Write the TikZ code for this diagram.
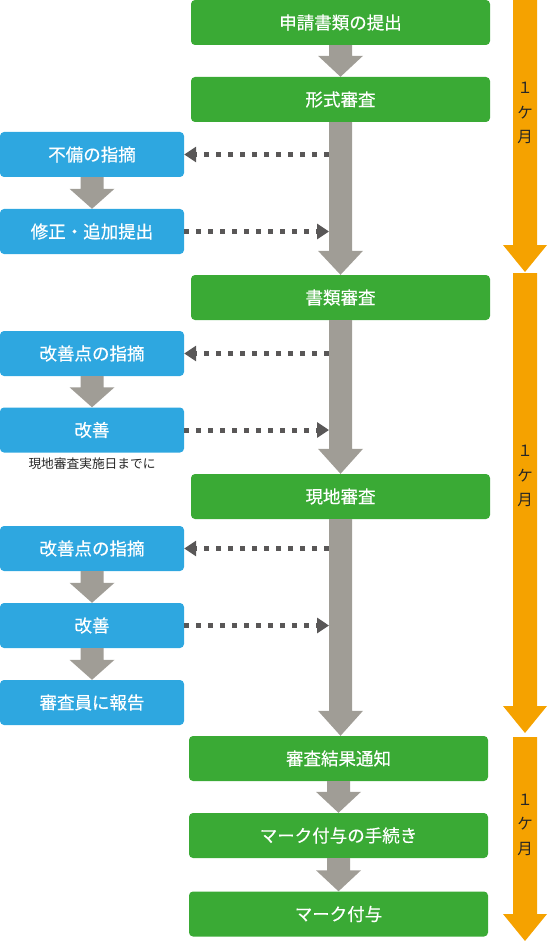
\documentclass[tikz,border=0pt]{standalone}
\usepackage{fontspec}
\newfontfamily\jp{Noto Sans CJK JP}
\newfontfamily\jpb[FakeBold=0.4]{Noto Sans CJK JP}
\usepackage{tikz}
\usetikzlibrary{arrows.meta, calc}

\definecolor{stepgreen}{HTML}{3AAA35}
\definecolor{stepblue}{HTML}{2EA7E0}
\definecolor{arrgray}{HTML}{A09D96}
\definecolor{dotgray}{HTML}{595757}
\definecolor{termorange}{HTML}{F5A200}

\begin{document}
\begin{tikzpicture}[x=1pt, y=-1pt,
  main/.style={rectangle, fill=stepgreen, minimum width=299pt, minimum height=45pt, rounded corners=4pt, text=white, font=\jpb\fontsize{17.5}{17.5}\selectfont},
  sub/.style={rectangle, fill=stepblue, minimum width=184pt, minimum height=45pt, rounded corners=4pt, text=white, font=\jpb\fontsize{17.5}{17.5}\selectfont},
  fatarr/.style={fill=arrgray},
  dotarr/.style={draw=dotgray, line width=5pt, dash pattern=on 5pt off 7pt, -{Triangle[length=12pt, width=15pt]}},
  timebar/.style={fill=termorange},
  month/.style={align=center, text=black!85, font=\jp\fontsize{15.5}{24.5}\selectfont},
  note/.style={text=black!85, font=\jp\fontsize{12.7}{12.7}\selectfont}
]
\useasboundingbox (0,0) rectangle (548,941);

% Main steps
\node[main] (apply) at (340.5, 22.5) {申請書類の提出};
\node[main] (formal) at (340.5, 99.5) {形式審査};
\node[main] (docrev) at (340.5, 297.5) {書類審査};
\node[main] (onsite) at (340.5, 496.5) {現地審査};
\node[main] (result) at (338.5, 758.5) {審査結果通知};
\node[main] (markproc) at (338.5, 835.5) {マーク付与の手続き};
\node[main] (mark) at (338.5, 914) {マーク付与};

% Side steps
\node[sub] (defect1) at (92, 154.5) {不備の指摘};
\node[sub] (fix1) at (92, 231.5) {修正・追加提出};
\node[sub] (imppt1) at (92, 353.5) {改善点の指摘};
\node[sub] (imp1) at (92, 430) {改善};
\node[note] (notedate) at (92, 464) {現地審査実施日までに};
\node[sub] (imppt2) at (92, 548.5) {改善点の指摘};
\node[sub] (imp2) at (92, 625.5) {改善};
\node[sub] (report) at (92, 702.5) {審査員に報告};

% Fat arrows
\foreach \a/\b/\h in {apply/formal/21, formal/docrev/24, docrev/onsite/25, onsite/result/25, result/markproc/21, markproc/mark/21, defect1/fix1/20, imppt1/imp1/20, imppt2/imp2/20, imp2/report/20} {
  \fill[fatarr] ($(\a.south)+(-11.5,0)$) -- ($(\a.south |- \b.north)+(-11.5,-\h)$)
    -- ($(\a.south |- \b.north)+(-22.5,-\h)$) -- (\a.south |- \b.north)
    -- ($(\a.south |- \b.north)+(22.5,-\h)$) -- ($(\a.south |- \b.north)+(11.5,-\h)$)
    -- ($(\a.south)+(11.5,0)$) -- cycle;
}

% Dotted arrows
\coordinate (sh) at ($(formal.south)+(-11.5,0)$);
\foreach \l in {defect1, imppt1, imppt2}
  \draw[dotarr] (sh |- \l.east) -- (\l.east);
\foreach \r in {fix1, imp1, imp2}
  \draw[dotarr] (\r.east) -- (sh |- \r.east);

% Time bars
\foreach \t/\e in {0/272, 273/733, 737/941} {
  \fill[timebar] (513,\t) -- (513,\e-27) -- (503,\e-27) -- (525,\e) -- (547,\e-27) -- (537,\e-27) -- (537,\t) -- cycle;
}
\node[month] (m1) at (525, 113) {１\\ケ\\月};
\node[month] (m2) at (525, 476) {１\\ケ\\月};
\node[month] (m3) at (525, 824.5) {１\\ケ\\月};
\end{tikzpicture}
\end{document}
